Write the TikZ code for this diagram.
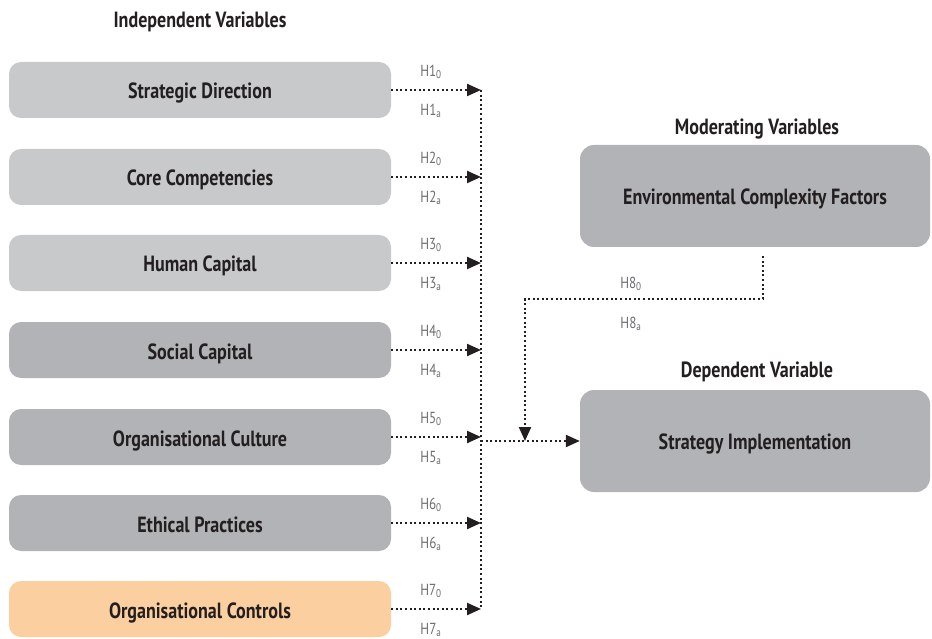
\documentclass[tikz,border=0pt]{standalone}
\usepackage{fontspec}
\setmainfont{PT Sans}[FakeStretch=0.82]
\usetikzlibrary{arrows.meta}
\definecolor{boxlight}{HTML}{C8C9CB}
\definecolor{boxdark}{HTML}{B2B3B6}
\definecolor{boxorange}{HTML}{FBCF9F}
\definecolor{txt}{HTML}{231F20}
\definecolor{hlab}{HTML}{6D6E71}
\tikzset{
  varbox/.style={rounded corners=12pt, minimum width=382pt, minimum height=56pt, inner sep=0pt,
    font=\fontsize{22}{26}\selectfont\bfseries, text=txt, text height=18pt, text depth=0pt},
  bigbox/.style={rounded corners=14pt, minimum width=350pt, minimum height=102pt, inner sep=0pt,
    font=\fontsize{22}{26}\selectfont\bfseries, text=txt, fill=boxdark, text height=17pt, text depth=0pt},
  heading/.style={font=\fontsize{22}{26}\selectfont\bfseries, text=txt, inner sep=0pt,
    text height=0.62em, text depth=0pt},
  hlabel/.style={font=\fontsize{16}{18}\selectfont, text=hlab, inner sep=0pt},
  dotline/.style={line width=2.2pt, dash pattern=on 2pt off 2.6pt, draw=txt},
  arr/.style={-{Triangle[length=14pt,width=12pt]}},
}
\begin{document}
\begin{tikzpicture}[x=1pt,y=-1pt]
\useasboundingbox (0,0) rectangle (932,639);
\node[heading] (hind) at (200,24.5) {Independent Variables};
\node[heading] (hmod) at (757,131) {Moderating Variables};
\node[heading] (hdep) at (757,374) {Dependent Variable};

\node[varbox, fill=boxlight] (b1) at (200,90) {Strategic Direction};
\node[varbox, fill=boxlight] (b2) at (200,177) {Core Competencies};
\node[varbox, fill=boxlight] (b3) at (200,263) {Human Capital};
\node[varbox, fill=boxdark] (b4) at (200,350) {Social Capital};
\node[varbox, fill=boxdark] (b5) at (200,437) {Organisational Culture};
\node[varbox, fill=boxdark] (b6) at (200,523) {Ethical Practices};
\node[varbox, fill=boxorange] (b7) at (200,609) {Organisational Controls};

\node[bigbox] (env) at (755,196) {Environmental Complexity Factors};
\node[bigbox] (si) at (755,441) {Strategy Implementation};

\coordinate (vt) at (481,90);
\coordinate (vb) at (481,609);
\coordinate (vj) at (481,441);
\coordinate (m0) at (763,256);
\coordinate (m1) at (763,299);
\coordinate (m2) at (525,299);
\coordinate (m3) at (525,441);

\draw[dotline] (vt) -- (vb);
\foreach \i in {1,...,7}{
  \draw[dotline,arr] (b\i.east) -- (b\i.east -| vt);
}
\draw[dotline,arr] (vj) -- (si.west);
\draw[dotline,arr] (m0) -- (m1) -- (m2) -- (m3);

\foreach \i/\y in {1/90,2/177,3/263,4/350,5/437,6/523,7/609}{
  \node[hlabel] (h\i z) at (431,\y-18) {H\i\textsubscript{0}};
  \node[hlabel] (h\i a) at (431,\y+21) {H\i\textsubscript{a}};
}
\node[hlabel] (h8z) at (631,284) {H8\textsubscript{0}};
\node[hlabel] (h8a) at (631,324) {H8\textsubscript{a}};
\end{tikzpicture}
\end{document}
